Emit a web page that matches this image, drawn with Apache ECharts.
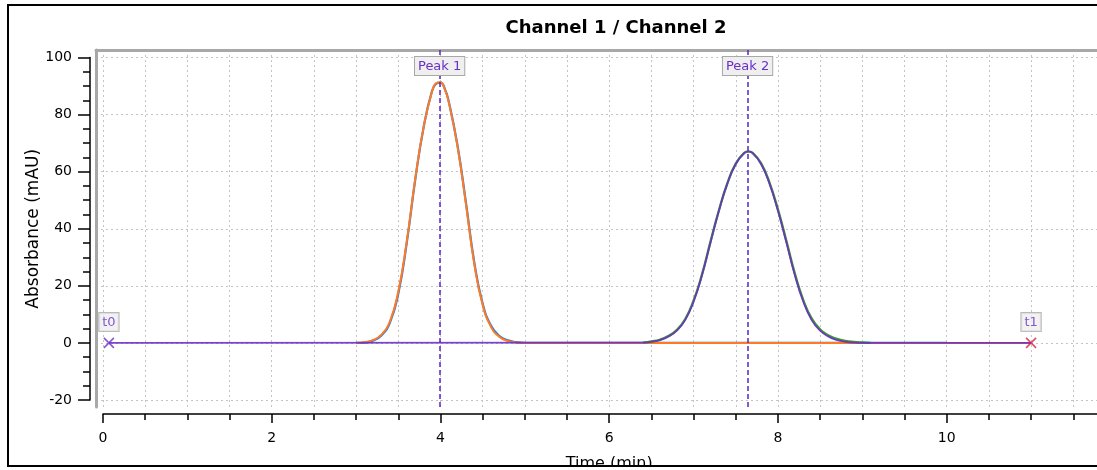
<!DOCTYPE html>
<html style="height: 100%">

<head>
    <meta charset="utf-8">
    <script src="https://cdn.jsdelivr.net/npm/echarts@6/dist/echarts.min.js"></script>
</head>

<body style="height: 100%; margin: 0; background: #fff">
    <div id="chart" style="width: 1097px; height: 470px"></div>
    <script type="text/javascript">
        // peak 1
        var times1 = [3.0, 3.1, 3.2, 3.3, 3.4, 3.5, 3.6, 3.7, 3.8, 3.9, 3.95, 4.0, 4.05, 4.1, 4.2, 4.3, 4.4, 4.5, 4.6, 4.7, 4.8, 4.9, 5.0];
        var blue1 = [0, 0.1, 0.8, 2.6, 7.0, 17.2, 35.0, 57.0, 75.5, 88.3, 90.8, 91.2, 89.2, 84.3, 69.5, 49.6, 28.4, 13.8, 6.0, 2.4, 0.9, 0.3, 0.05];
        var orange1 = [0, 0.25, 0.95, 2.9, 7.5, 18.0, 35.5, 57.3, 75.6, 88.1, 91.0, 91.3, 88.9, 84.1, 69.2, 49.0, 27.8, 13.3, 5.6, 2.1, 0.7, 0.15, 0];

        // peak 2
        var times2 = [6.4, 6.5, 6.6, 6.7, 6.8, 6.9, 7.0, 7.1, 7.2, 7.3, 7.4, 7.5, 7.6, 7.65, 7.7, 7.8, 7.9, 8.0, 8.1, 8.2, 8.3, 8.4, 8.5, 8.6, 8.7, 8.8, 8.9, 9.0, 9.1];
        var green2 = [0.1, 0.5, 1.1, 2.4, 4.5, 8.3, 14.8, 24.0, 35.4, 46.4, 55.9, 62.8, 66.6, 67.1, 66.6, 62.9, 56.1, 46.7, 35.7, 24.3, 15.0, 8.5, 4.7, 2.6, 1.4, 0.7, 0.35, 0.15, 0];
        var violet2 = [0.1, 0.4, 1.0, 2.2, 4.3, 8.0, 14.5, 23.8, 35.2, 46.3, 55.8, 62.7, 66.5, 67.0, 66.5, 62.7, 55.8, 46.3, 35.2, 23.8, 14.5, 8.0, 4.3, 2.2, 1.0, 0.4, 0.1, 0, 0];

        // run markers and baseline ends
        var markerTimes = [0.07, 11.0];
        var markerNames = ['t0', 't1'];
        var blueEnd = 10.0;
        var orangeEnd = 11.0;

        var peakTimes = [3.99, 7.645];
        var peakNames = ['Peak 1', 'Peak 2'];

        var xTicks = { min: 0, max: 12, major: 2 };
        var yTicks = { min: -20, max: 100, major: 20 };

        function pairs(xs, ys) {
            return xs.map(function (x, i) { return [x, ys[i]]; });
        }

        var blueData = pairs(times1, blue1).concat([[blueEnd, 0]]);
        var orangeData = pairs(times1, orange1).concat([[orangeEnd, 0]]);
        var greenData = pairs(times2, green2);
        var violetData = [[markerTimes[0], 0]].concat(pairs(times2, violet2), [[markerTimes[1], 0]]);

        var FONT = 'DejaVu Sans';
        var dotted = { type: [2, 3], color: '#c4c4c4', width: 1 };
        var boxLabel = {
            show: true,
            color: '#6a2fc8',
            fontFamily: FONT,
            fontSize: 13,
            backgroundColor: '#efefef',
            borderColor: '#a8a8a8',
            borderWidth: 1,
            padding: [3, 3, 2, 3]
        };
        var markerColors = ['#6a2fc8', '#d0204a'];

        // pixel mapping: y 100 -> 57.5px, -20 -> 400px; x 0 -> 103px, 84.37 px/min
        var pxPerY = (400 - 57.5) / 120;
        var yTop = 100 + (57.5 - 50) / pxPerY;
        var yBottom = -20 - (407 - 400) / pxPerY;

        var chart = echarts.init(document.getElementById('chart'));
        chart.setOption({
            animation: false,
            title: {
                text: 'Channel 1 / Channel 2',
                left: 611,
                top: 14,
                textAlign: 'center',
                textStyle: { fontFamily: FONT, fontSize: 18, fontWeight: 'bold', color: '#000' }
            },
            grid: [
                // frame (top + left grey border)
                { left: 96, top: 50, width: 1030, height: 357, outerBoundsMode: 'none' },
                // x axis + data
                { left: 103, top: 50, width: 84.37 * 12, height: 357, outerBoundsMode: 'none' },
                // y axis
                { left: 96, top: 57.5, width: 1030, height: 342.5, outerBoundsMode: 'none' }
            ],
            xAxis: [
                {
                    gridIndex: 0, type: 'value', position: 'top', min: 0, max: 1,
                    axisLine: { show: true, onZero: false, lineStyle: { color: '#a8a8a8', width: 3 } },
                    axisTick: { show: false }, axisLabel: { show: false }, splitLine: { show: false }
                },
                {
                    gridIndex: 1, type: 'value', min: xTicks.min, max: xTicks.max, interval: xTicks.major,
                    offset: 7,
                    name: 'Time (min)', nameLocation: 'middle', nameGap: 42, nameMoveOverlap: false,
                    nameTextStyle: { fontFamily: FONT, fontSize: 16, color: '#000' },
                    axisLine: { show: true, onZero: false, lineStyle: { color: '#000', width: 1.5 } },
                    axisTick: { show: true, length: 9, lineStyle: { color: '#000', width: 1.5 } },
                    minorTick: { show: true, splitNumber: 4, length: 6, lineStyle: { color: '#000', width: 1.5 } },
                    axisLabel: { margin: 17, fontFamily: FONT, fontSize: 14, color: '#000' },
                    splitLine: { show: true, lineStyle: dotted },
                    minorSplitLine: { show: true, lineStyle: dotted }
                },
                {
                    gridIndex: 2, type: 'value', min: 0, max: 1, show: false
                }
            ],
            yAxis: [
                {
                    gridIndex: 0, type: 'value', min: 0, max: 1,
                    axisLine: { show: true, onZero: false, lineStyle: { color: '#a8a8a8', width: 3 } },
                    axisTick: { show: false }, axisLabel: { show: false }, splitLine: { show: false }
                },
                {
                    gridIndex: 1, type: 'value', min: yBottom, max: yTop, show: false
                },
                {
                    gridIndex: 2, type: 'value', min: yTicks.min, max: yTicks.max, interval: yTicks.major,
                    offset: 6,
                    name: 'Absorbance (mAU)', nameLocation: 'middle', nameGap: 48, nameMoveOverlap: false,
                    nameTextStyle: { fontFamily: FONT, fontSize: 17, color: '#000' },
                    axisLine: { show: true, onZero: false, lineStyle: { color: '#000', width: 1.5 } },
                    axisTick: { show: true, length: 12, lineStyle: { color: '#000', width: 1.5 } },
                    minorTick: { show: true, splitNumber: 4, length: 7, lineStyle: { color: '#000', width: 1.5 } },
                    axisLabel: { margin: 18, fontFamily: FONT, fontSize: 14, color: '#000' },
                    splitLine: { show: true, lineStyle: dotted }
                }
            ],
            series: [
                {
                    name: 'ch1', type: 'line', xAxisIndex: 1, yAxisIndex: 1, data: blueData,
                    smooth: 0.5, showSymbol: false,
                    lineStyle: { color: '#1f7fe8', width: 2.2 }
                },
                {
                    name: 'ch2', type: 'line', xAxisIndex: 1, yAxisIndex: 1, data: orangeData,
                    smooth: 0.5, showSymbol: false,
                    lineStyle: { color: '#ff7a22', width: 2 }
                },
                {
                    name: 'ch3', type: 'line', xAxisIndex: 1, yAxisIndex: 1, data: greenData,
                    smooth: 0.5, showSymbol: false,
                    lineStyle: { color: '#3a9a2a', width: 2.4 }
                },
                {
                    name: 'ch4', type: 'line', xAxisIndex: 1, yAxisIndex: 1, data: violetData,
                    smooth: 0.5, showSymbol: false,
                    lineStyle: { color: '#6a30c8', width: 1.8, opacity: 0.9 }
                },
                {
                    name: 'peaks', type: 'line', xAxisIndex: 1, yAxisIndex: 1, data: [], z: 5,
                    markLine: {
                        silent: true,
                        symbol: ['none', 'none'],
                        lineStyle: { color: '#5a28b8', width: 1.5, type: [5, 3] },
                        label: Object.assign({}, boxLabel, { position: 'end', distance: -25 }),
                        data: peakTimes.map(function (t, i) {
                            return { xAxis: t, label: { formatter: peakNames[i] } };
                        })
                    }
                },
                {
                    name: 'markers', type: 'scatter', xAxisIndex: 1, yAxisIndex: 1, z: 6,
                    symbol: 'path://M0,0L10,10M10,0L0,10',
                    symbolSize: 10,
                    label: Object.assign({}, boxLabel, { position: 'top', distance: 6, formatter: function (p) { return p.name; } }),
                    data: markerTimes.map(function (t, i) {
                        return {
                            name: markerNames[i], value: [t, 0],
                            itemStyle: { color: 'transparent', borderColor: markerColors[i], borderWidth: 1.6 }
                        };
                    })
                }
            ],
            graphic: [
                { type: 'rect', z: 100, shape: { x: 0, y: 467, width: 1097, height: 3 }, style: { fill: '#fff' } },
                { type: 'rect', z: 101, shape: { x: 8, y: 5, width: 1100, height: 461 }, style: { fill: 'none', stroke: '#000', lineWidth: 2 } }
            ]
        });
    </script>
</body>

</html>
